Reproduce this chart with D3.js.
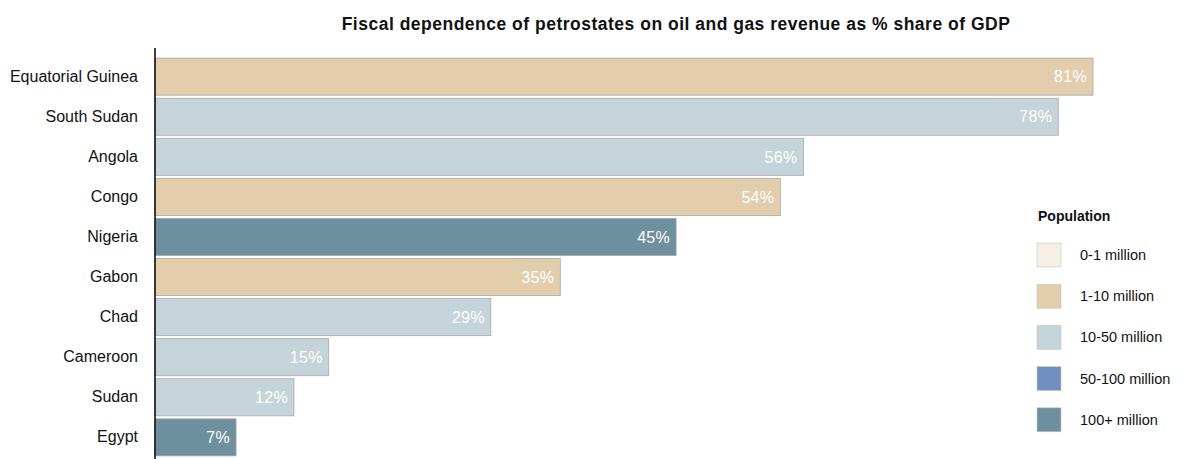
<!DOCTYPE html>
<html>
<head>
<meta charset="utf-8">
<script src="https://cdn.jsdelivr.net/npm/d3@7"></script>
<style>
  html, body { margin: 0; padding: 0; background: #fff; }
  svg { display: block; font-family: "Liberation Sans", Arial, Helvetica, sans-serif; }
</style>
</head>
<body>
<svg id="chart" width="1185" height="459"></svg>
<script>
// Petrostate fiscal dependence on oil & gas revenue (% of GDP)
const countries = ["Equatorial Guinea", "South Sudan", "Angola", "Congo", "Nigeria",
                   "Gabon", "Chad", "Cameroon", "Sudan", "Egypt"];
const shares = [81, 78, 56, 54, 45, 35, 29, 15, 12, 7];
const populationGroup = ["1-10 million", "10-50 million", "10-50 million", "1-10 million",
                         "100+ million", "1-10 million", "10-50 million", "10-50 million",
                         "10-50 million", "100+ million"];
const populationClasses = ["0-1 million", "1-10 million", "10-50 million", "50-100 million", "100+ million"];
const classColors = ["#f5efe3", "#e2cdac", "#c5d3da", "#718fc0", "#6e8f9e"];

const rows = countries.map((c, i) => ({ country: c, share: shares[i], group: populationGroup[i] }));

const svg = d3.select("#chart");

const x = d3.scaleLinear().domain([0, 81]).range([155, 1093]);
const y = d3.scaleBand().domain(countries).range([56.5, 457.5]).paddingInner(0.075).paddingOuter(0.04);
const color = d3.scaleOrdinal().domain(populationClasses).range(classColors);

// Title
svg.append("text")
  .attr("x", 676)
  .attr("y", 30)
  .attr("text-anchor", "middle")
  .attr("font-size", "17.5px")
  .attr("letter-spacing", "0.5px")
  .attr("font-weight", "bold")
  .attr("fill", "#111")
  .text("Fiscal dependence of petrostates on oil and gas revenue as % share of GDP");

// Bars
svg.append("g")
  .selectAll("rect")
  .data(rows)
  .join("rect")
  .attr("x", x(0))
  .attr("y", d => y(d.country))
  .attr("width", d => x(d.share) - x(0))
  .attr("height", y.bandwidth())
  .attr("fill", d => color(d.group))
  .attr("stroke", "#a9a9a9")
  .attr("stroke-width", 0.8);

// Value labels inside the bar ends
svg.append("g")
  .selectAll("text")
  .data(rows)
  .join("text")
  .attr("x", d => x(d.share) - 6)
  .attr("y", d => y(d.country) + y.bandwidth() / 2)
  .attr("dy", "0.36em")
  .attr("text-anchor", "end")
  .attr("font-size", "16px")
  .attr("letter-spacing", "0.3px")
  .attr("fill", "#fff")
  .text(d => d.share + "%");

// Category axis
const yAxis = d3.axisLeft(y).tickSize(0).tickPadding(17);
const gy = svg.append("g")
  .attr("transform", `translate(${x(0)},0)`)
  .call(yAxis);
gy.select(".domain").remove();
gy.selectAll("text")
  .attr("font-size", "16px")
  .attr("font-family", "\"Liberation Sans\", Arial, sans-serif")
  .attr("fill", "#111");
svg.append("line")
  .attr("x1", x(0)).attr("x2", x(0))
  .attr("y1", 48).attr("y2", 459)
  .attr("stroke", "#111")
  .attr("stroke-width", 1.6);

// Legend
const legend = svg.append("g").attr("transform", "translate(1037,0)");
legend.append("text")
  .attr("x", 1)
  .attr("y", 221)
  .attr("font-size", "14px")
  .attr("font-weight", "bold")
  .attr("fill", "#111")
  .text("Population");

const item = legend.selectAll("g.item")
  .data(populationClasses)
  .join("g")
  .attr("class", "item")
  .attr("transform", (d, i) => `translate(0,${243 + i * 41.2})`);
item.append("rect")
  .attr("width", 24)
  .attr("height", 24)
  .attr("fill", d => color(d))
  .attr("stroke", "#c8c8c8")
  .attr("stroke-width", 0.6);
item.append("text")
  .attr("x", 43)
  .attr("y", 12)
  .attr("dy", "0.35em")
  .attr("font-size", "14.5px")
  .attr("fill", "#111")
  .text(d => d);
</script>
</body>
</html>
